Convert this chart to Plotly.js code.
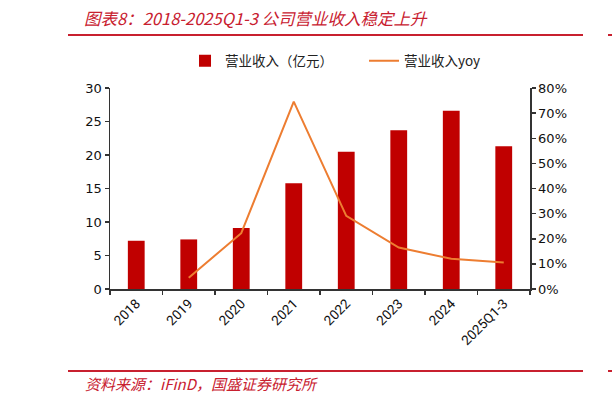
<!DOCTYPE html>
<html>
<head>
<meta charset="utf-8">
<script src="https://cdn.plot.ly/plotly-3.0.1.min.js"></script>
<style>html,body{margin:0;padding:0;background:#fff;}#chart{width:612px;height:403px;}</style>
</head>
<body>
<div id="chart"></div>
<script>
const categories = ["2018", "2019", "2020", "2021", "2022", "2023", "2024", "2025Q1-3"];
const revenue = [7.2, 7.4, 9.1, 15.8, 20.5, 23.7, 26.6, 21.3];
const revenueYoy = [null, 4.5, 22.2, 74.6, 29.1, 16.5, 12.0, 10.5];
const leftTicks = [0, 5, 10, 15, 20, 25, 30];
const rightTicks = [0, 10, 20, 30, 40, 50, 60, 70, 80];
const rightTickLabels = ["0%", "10%", "20%", "30%", "40%", "50%", "60%", "70%", "80%"];

const red = "#c8202f";
const cjk = "'Noto Sans CJK SC', 'DejaVu Sans', sans-serif";

const traces = [
  {
    type: "bar", name: "营业收入（亿元）", x: categories, y: revenue,
    marker: {color: "#c00000"}, yaxis: "y"
  },
  {
    type: "scatter", mode: "lines", name: "营业收入yoy", x: categories, y: revenueYoy,
    line: {color: "#ed7d31", width: 2}, yaxis: "y2", connectgaps: false
  }
];

const layout = {
  width: 612, height: 403,
  margin: {l: 110, r: 82, t: 88, b: 114},
  paper_bgcolor: "#fff", plot_bgcolor: "#fff",
  bargap: 0.68,
  showlegend: true,
  legend: {
    orientation: "h", x: 0.1786, xanchor: "left", y: 1.135, yanchor: "middle",
    entrywidth: 134, entrywidthmode: "pixels",
    font: {family: cjk, size: 13.5, color: "#222"}, itemwidth: 30, tracegroupgap: 0
  },
  xaxis: {
    type: "category", showline: true, linecolor: "#333", linewidth: 1.5,
    ticks: "outside", tickson: "boundaries", ticklen: 4, tickcolor: "#333", tickwidth: 1.5,
    tickangle: -45, tickfont: {family: "Roboto, 'Open Sans', sans-serif", size: 13.5, color: "#111"},
    showgrid: false, zeroline: false, fixedrange: true
  },
  yaxis: {
    range: [0, 30], tickvals: leftTicks, showline: true, linecolor: "#333", linewidth: 1.5,
    ticks: "outside", ticklen: 4, tickcolor: "#333", tickwidth: 1.5,
    tickfont: {family: "'DejaVu Sans', sans-serif", size: 13, color: "#111"},
    showgrid: false, zeroline: false, fixedrange: true
  },
  yaxis2: {
    overlaying: "y", side: "right", range: [0, 80], tickmode: "array",
    tickvals: rightTicks, ticktext: rightTickLabels,
    showline: true, linecolor: "#333", linewidth: 1.5,
    ticks: "outside", ticklen: 4, tickcolor: "#333", tickwidth: 1.5,
    tickfont: {family: "'DejaVu Sans', sans-serif", size: 13, color: "#111"},
    showgrid: false, zeroline: false, fixedrange: true
  },
  shapes: [
    {type: "line", xref: "paper", yref: "paper", x0: -0.1, x1: 1.1262, y0: 1.2637, y1: 1.2637, line: {color: red, width: 2}},
    {type: "line", xref: "paper", yref: "paper", x0: 1.1857, x1: 1.2, y0: 1.2637, y1: 1.2637, line: {color: red, width: 2}},
    {type: "line", xref: "paper", yref: "paper", x0: -0.1, x1: 1.1262, y0: -0.408, y1: -0.408, line: {color: red, width: 2}},
    {type: "line", xref: "paper", yref: "paper", x0: 1.1857, x1: 1.2, y0: -0.408, y1: -0.408, line: {color: red, width: 2}}
  ],
  annotations: [
    {xref: "paper", yref: "paper", x: -0.0667, y: 1.3458, xanchor: "left", yanchor: "middle", showarrow: false,
     text: "<i>图表8：2018-2025Q1-3 公司营业收入稳定上升</i>", font: {family: cjk, size: 16.5, color: red}},
    {xref: "paper", yref: "paper", x: -0.0643, y: -0.4677, xanchor: "left", yanchor: "middle", showarrow: false,
     text: "<i>资料来源：iFinD，国盛证券研究所</i>", font: {family: cjk, size: 15, color: red}}
  ]
};

Plotly.newPlot("chart", traces, layout, {staticPlot: true, displayModeBar: false});
</script>
</body>
</html>
